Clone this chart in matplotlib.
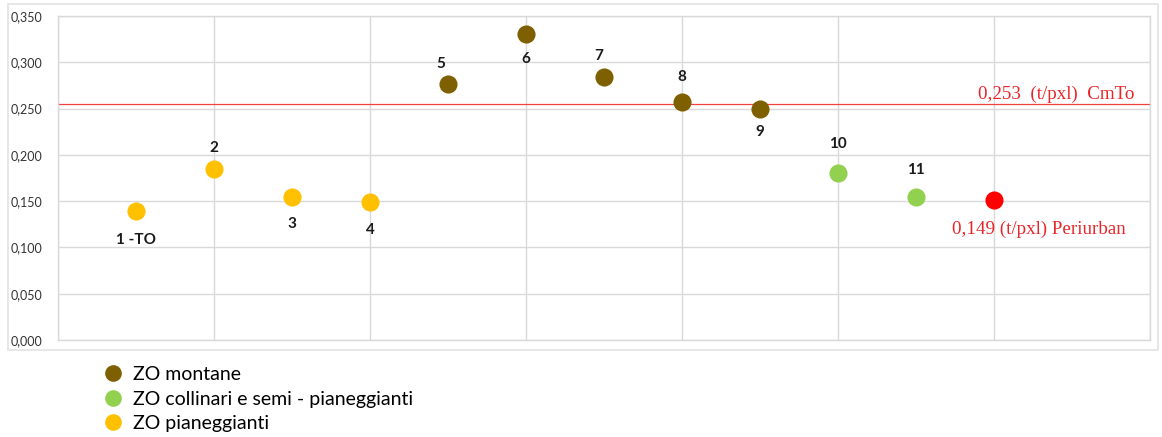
import matplotlib.pyplot as plt
from matplotlib.lines import Line2D
from matplotlib.patches import Rectangle
from matplotlib.ticker import MultipleLocator, FuncFormatter

# ---- data ----
point_labels = ['1 -TO', '2', '3', '4', '5', '6', '7', '8', '9', '10', '11']
point_x = [1, 2, 3, 4, 5, 6, 7, 8, 9, 10, 11]
point_values = [0.139, 0.185, 0.155, 0.149, 0.277, 0.331, 0.284, 0.257, 0.250, 0.180, 0.155]
point_groups = ['pian', 'pian', 'pian', 'pian', 'mont', 'mont', 'mont', 'mont', 'mont', 'coll', 'coll']

periurban_x = 12
periurban_value = 0.151
periurban_text = '0,149 (t/pxl) Periurban'

cmto_value = 0.255
cmto_text = '0,253  (t/pxl)  CmTo'

group_names = {'mont': 'ZO montane',
               'coll': 'ZO collinari e semi - pianeggianti',
               'pian': 'ZO pianeggianti'}
group_order = ['mont', 'coll', 'pian']

# ---- style ----
group_colors = {'mont': '#7f6000', 'coll': '#92d050', 'pian': '#ffc000'}
# label offsets in points (dx, dy)
label_offsets = [(0, -21), (0, 15), (0, -20), (0, -20), (-5, 14), (0, -18),
                 (-4, 15), (0, 18), (0, -17), (0, 21), (0, 19)]

fig = plt.figure(figsize=(11.62, 4.37), dpi=100)
ax = fig.add_axes([58/1162, 1-340/437, (1150-58)/1162, (340-16)/437])

grid_c = '#d9d9d9'
for gx, gy, g in zip(point_x, point_values, point_groups):
    ax.scatter(gx, gy, s=170, color=group_colors[g], zorder=3, linewidths=0)
ax.scatter(periurban_x, periurban_value, s=170, color='#ff0000', zorder=3, linewidths=0)

for lab, gx, gy, off in zip(point_labels, point_x, point_values, label_offsets):
    ax.annotate(lab, (gx, gy), xytext=off, textcoords='offset points',
                ha='center', va='center', fontsize=11, fontweight='bold',
                family='Lato', color='#1a1a1a')

ax.axhline(cmto_value, color='#f04040', lw=0.9, zorder=2)
ax.text(13.8, cmto_value + 0.0015, cmto_text, ha='right', va='bottom',
        family='Liberation Serif', fontsize=13.7, color='#e8262a')
ax.annotate(periurban_text, (periurban_x, periurban_value), xytext=(32, -21),
            textcoords='offset points', ha='center', va='center',
            family='Liberation Serif', fontsize=13.7, color='#e8262a')

ax.set_xlim(0, 14)
ax.set_ylim(0, 0.35)
ax.xaxis.set_major_locator(MultipleLocator(2))
ax.yaxis.set_major_locator(MultipleLocator(0.05))
ax.yaxis.set_major_formatter(FuncFormatter(lambda v, p: f'{v:.3f}'.replace('.', ',')))
ax.set_xticklabels([])
ax.tick_params(axis='x', length=0)
ax.tick_params(axis='y', length=0, pad=11, labelsize=9, labelcolor='#333333')
for lab in ax.get_yticklabels():
    lab.set_family('Lato')
ax.grid(True, color=grid_c, lw=1)
ax.set_axisbelow(True)
for s in ax.spines.values():
    s.set_color(grid_c)
    s.set_linewidth(1)

# outer frame
fig.patches.append(Rectangle((8/1162, 1-350/437), (1158-8)/1162, (350-4)/437,
                             transform=fig.transFigure, fill=False,
                             edgecolor='#e3e3e3', lw=1.2))

handles = [Line2D([], [], marker='o', ls='none', markersize=12,
                  markerfacecolor=group_colors[g], markeredgewidth=0) for g in group_order]
fig.legend(handles, [group_names[g] for g in group_order],
           loc='upper left', bbox_to_anchor=(94/1162, 1-356/437),
           frameon=False, borderpad=0, handlelength=1, handletextpad=0.5,
           labelspacing=0.4, prop={'family': 'Lato', 'size': 14})

fig.savefig('out.png', dpi=100)
